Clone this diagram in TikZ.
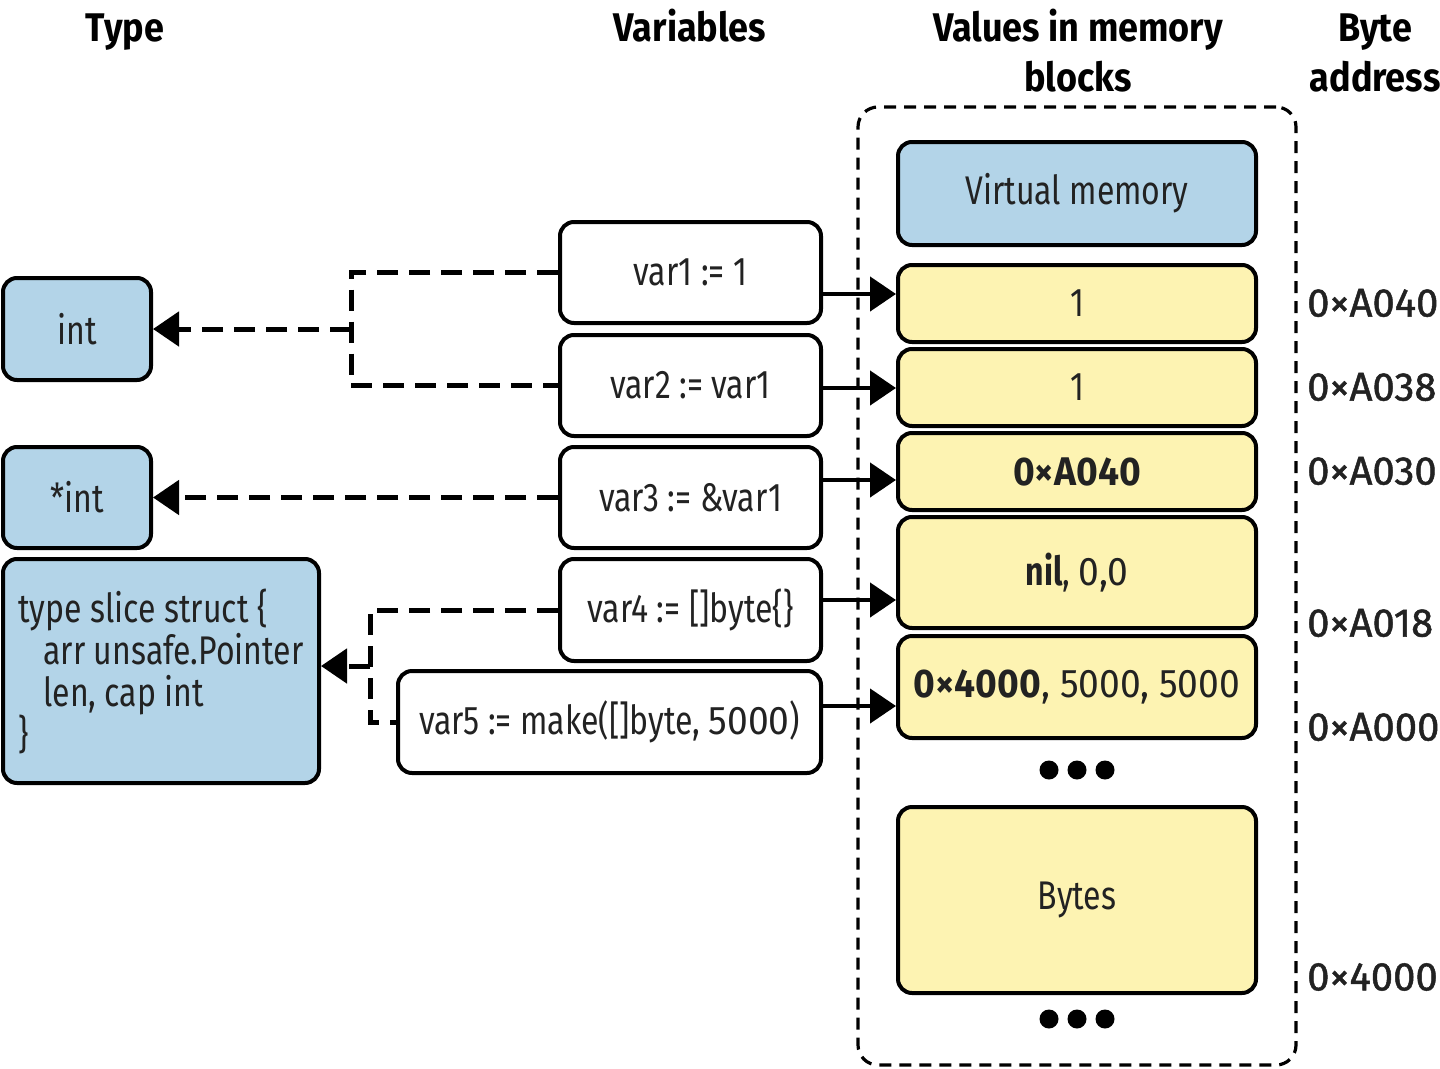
\documentclass[tikz,border=0pt]{standalone}
\usepackage{fontspec}
\setmainfont{Fira Sans}[FakeStretch=0.8]
\newfontfamily\numf{Fira Sans}[FakeStretch=0.93]
\newfontfamily\addrf{Fira Sans}[FakeStretch=1.0, FakeBold=1.2]
\newfontfamily\hdfont{Fira Sans}[FakeStretch=0.9]
\usetikzlibrary{arrows.meta}
\definecolor{bluef}{HTML}{B3D4E8}
\definecolor{yellf}{HTML}{FDF3B2}
\definecolor{txt}{HTML}{222222}
\begin{document}
\begin{tikzpicture}[x=1pt,y=-1pt,
  box/.style={draw, line width=4pt, rounded corners=14pt, inner sep=0pt, text=txt, font=\fontsize{40}{42}\selectfont},
  bluebox/.style={box, fill=bluef},
  whitebox/.style={box, fill=white},
  yellbox/.style={box, fill=yellf, minimum width=358pt},
  dashline/.style={line width=5pt, dash pattern=on 21pt off 11pt},
  darrow/.style={dashline, -{Triangle[length=26pt,width=34pt]}},
  sarrow/.style={line width=4.5pt, -{Triangle[length=26pt,width=34pt]}},
  hdr/.style={font=\hdfont\bfseries\fontsize{40}{44}\selectfont, anchor=base, inner sep=0pt},
  addr/.style={font=\addrf\fontsize{40}{40}\selectfont, anchor=west, inner sep=0pt, text=txt},
  dotn/.style={circle, fill=black, inner sep=0pt, minimum size=19pt}
]
\useasboundingbox (0,0) rectangle (1440,1068);

% headers
\node[hdr] (hType) at (125,41) {Type};
\node[hdr] (hVar) at (690,41) {Variables};
\node[hdr] (hVal) at (1078,41) {Values in memory};
\node[hdr] (hVal2) at (1078,91) {blocks};
\node[hdr] (hAddr) at (1375,41) {Byte};
\node[hdr] (hAddr2) at (1375,91) {address};

% container
\node[draw, line width=3.2pt, dash pattern=on 12pt off 8pt, rounded corners=20pt,
      minimum width=438pt, minimum height=958pt] (mem) at (1077,586) {};

% type boxes
\node[bluebox, minimum width=148pt, minimum height=102pt] (int) at (77,329) {int};
\node[bluebox, minimum width=148pt, minimum height=101pt] (pint) at (77,497.5) {*int};
\node[bluebox, minimum width=316pt, minimum height=224pt, align=left] (struct) at (161,671)
  {type slice struct \{\\\hspace*{25pt}arr unsafe.Pointer\\\hspace*{25pt}len, cap int\\\}};

% variables
\node[whitebox, minimum width=261pt, minimum height=101pt] (var1) at (690.5,272.5) {var1 := 1};
\node[whitebox, minimum width=261pt, minimum height=101pt] (var2) at (690.5,385.5) {var2 := var1};
\node[whitebox, minimum width=261pt, minimum height=101pt] (var3) at (690.5,497.5) {var3 := \&var1};
\node[whitebox, minimum width=261pt, minimum height=102pt] (var4) at (690.5,610) {var4 := []byte\{\}};
\node[whitebox, minimum width=423pt, minimum height=102pt] (var5) at (609.5,722) {var5 := make([]byte, {\numf 5000})};

% memory blocks
\node[bluebox, minimum width=358pt, minimum height=103pt] (vm) at (1077,193.5) {Virtual memory};
\node[yellbox, minimum height=77pt] (m1) at (1077,303.5) {1};
\node[yellbox, minimum height=77pt] (m2) at (1077,387.5) {1};
\node[yellbox, minimum height=77pt] (m3) at (1077,471.5) {\numf\bfseries 0×A040};
\node[yellbox, minimum height=111pt] (m4) at (1077,572.5) {\textbf{nil}, {\numf 0,0}};
\node[yellbox, minimum height=102pt] (m5) at (1077,687) {\numf\textbf{0×4000}, 5000, 5000};
\node[yellbox, minimum height=186pt] (bytes) at (1077,900) {Bytes};

\node[dotn] (d1) at (1049,770) {};
\node[dotn] (d2) at (1077,770) {};
\node[dotn] (d3) at (1105,770) {};
\node[dotn] (e1) at (1049,1019) {};
\node[dotn] (e2) at (1077,1019) {};
\node[dotn] (e3) at (1105,1019) {};

% addresses
\node[addr] (a1) at (1307,303) {0×A040};
\node[addr] (a2) at (1307,387) {0×A038};
\node[addr] (a3) at (1307,471) {0×A030};
\node[addr] (a4) at (1307,623) {0×A018};
\node[addr] (a5) at (1307,727) {0×A000};
\node[addr] (a6) at (1307,977) {0×4000};

% dashed type links
\coordinate (j1) at (351,329);
\coordinate (j2) at (370,666);
\draw[dashline] (var1.west) -| (j1) |- (var2.west);
\draw[darrow] (j1) -- (int.east);
\draw[darrow] (var3.west) -- (pint.east);
\draw[dashline] (var4.west) -| (j2) |- (var5.west);
\draw[darrow] (j2) -- (struct.east |- j2);

% value arrows
\coordinate (y1) at (0,294);
\coordinate (y2) at (0,388);
\coordinate (y3) at (0,480);
\coordinate (y4) at (0,600);
\coordinate (y5) at (0,706);
\draw[sarrow] (var1.east |- y1) -- (m1.west |- y1);
\draw[sarrow] (var2.east |- y2) -- (m2.west |- y2);
\draw[sarrow] (var3.east |- y3) -- (m3.west |- y3);
\draw[sarrow] (var4.east |- y4) -- (m4.west |- y4);
\draw[sarrow] (var5.east |- y5) -- (m5.west |- y5);
\end{tikzpicture}
\end{document}
